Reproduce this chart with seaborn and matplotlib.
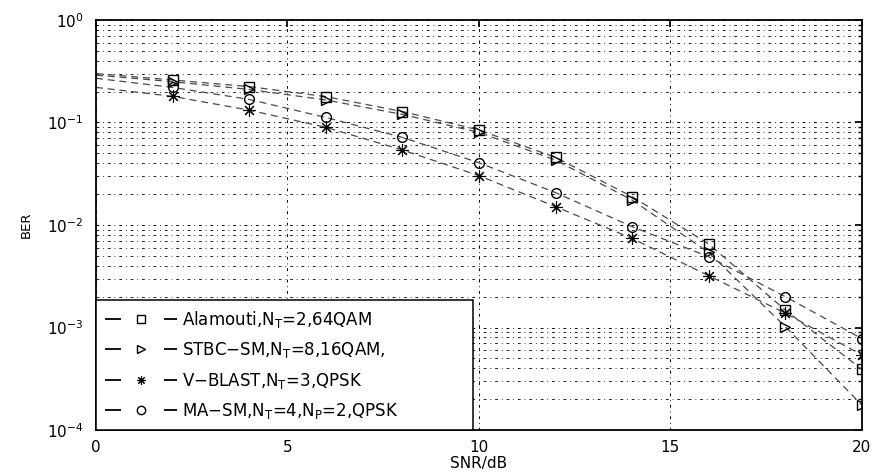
import matplotlib
matplotlib.use("Agg")
import matplotlib.pyplot as plt
import seaborn as sns
import numpy as np
from matplotlib.ticker import LogLocator, FixedLocator, NullFormatter

snr = [0, 2, 4, 6, 8, 10, 12, 14, 16, 18, 20]
ber_alamouti = [0.30, 0.26, 0.224, 0.179, 0.128, 0.0845, 0.0457, 0.0189, 0.00653, 0.00148, 0.00039]
ber_stbc = [0.29, 0.25, 0.21, 0.166, 0.12, 0.08, 0.043, 0.0175, 0.0054, 0.00102, 0.000175]
ber_vblast = [0.22, 0.18, 0.132, 0.0898, 0.054, 0.0303, 0.0151, 0.0074, 0.0032, 0.00138, 0.00054]
ber_masm = [0.27, 0.22, 0.168, 0.112, 0.0716, 0.0405, 0.0207, 0.00963, 0.0049, 0.0020, 0.00078]

labels = ["Alamouti,N$_\\mathrm{T}$=2,64QAM",
          "STBC\u2212SM,N$_\\mathrm{T}$=8,16QAM,",
          "V\u2212BLAST,N$_\\mathrm{T}$=3,QPSK",
          "MA\u2212SM,N$_\\mathrm{T}$=4,N$_\\mathrm{P}$=2,QPSK"]
markers = ["s", ">", (8, 2, 0), "o"]
series = [ber_alamouti, ber_stbc, ber_vblast, ber_masm]

sns.set_theme(style="white")
plt.rcParams['font.family'] = ['DejaVu Sans']
plt.rcParams['mathtext.fontset'] = 'dejavusans'
plt.rcParams['lines.scale_dashes'] = False
plt.rcParams['text.color'] = 'black'
plt.rcParams['axes.labelcolor'] = 'black'

fig = plt.figure(figsize=(8.75, 4.76), dpi=100)
ax = fig.add_axes([0.1097, 0.0966, 0.8753, 0.8614])

for y, lab, m in zip(series, labels, markers):
    is_star = m == (8, 2, 0)
    sns.lineplot(x=snr, y=y, ax=ax, label=lab, color="#4a4a4a", linestyle=(0, (5, 3.5)),
                 linewidth=0.9, marker=m, markersize=9 if is_star else 7,
                 markerfacecolor="none", markeredgecolor="black",
                 markeredgewidth=0.8 if is_star else 1.0,
                 markevery=slice(1, None), estimator=None, sort=False)

ax.set_yscale("log")
ax.set_xlim(0, 20)
ax.set_ylim(1e-4, 1)
ax.xaxis.set_major_locator(FixedLocator([0, 5, 10, 15, 20]))
ax.yaxis.set_major_locator(LogLocator(base=10, numticks=10))
ax.yaxis.set_minor_locator(LogLocator(base=10, subs=np.arange(2, 10), numticks=20))
ax.yaxis.set_minor_formatter(NullFormatter())

grid_ls = (0, (2.0, 2.8, 0.6, 2.8))
ax.grid(True, which="major", color="black", linestyle=grid_ls, linewidth=0.7)
ax.grid(True, which="minor", axis="y", color="black", linestyle=grid_ls, linewidth=0.6)
ax.tick_params(axis="both", which="both", direction="in", top=True, right=True,
               labelsize=11, colors="black")
ax.tick_params(axis="x", which="major", pad=7)
ax.tick_params(axis="y", which="major", pad=9)
ax.tick_params(which="major", length=5)
ax.tick_params(which="minor", length=3)
for s in ax.spines.values():
    s.set_color("black")
    s.set_linewidth(1.3)

ax.set_xlabel("SNR/dB", fontsize=11, labelpad=1, color="black")
ax.set_ylabel("BER", fontsize=9.5, labelpad=10, color="black")

leg = ax.legend(loc="lower left", bbox_to_anchor=(0.0, 0.0, 0.492, 0.31), mode="expand",
                fontsize=12, handlelength=4.3, handletextpad=0.3, frameon=True,
                fancybox=False, edgecolor="black", borderpad=0.55, labelspacing=0.62,
                borderaxespad=0.0)
leg.get_frame().set_linewidth(1.1)
leg.get_frame().set_alpha(1)
for t in leg.get_texts():
    t.set_color("black")
for ln in leg.get_lines():
    ln.set_linewidth(1.3)
    ln.set_color("black")
    ln.set_linestyle((0, (11.5, 31)))
    ln.set_markersize(6)

fig.savefig("out.png", dpi=100)
